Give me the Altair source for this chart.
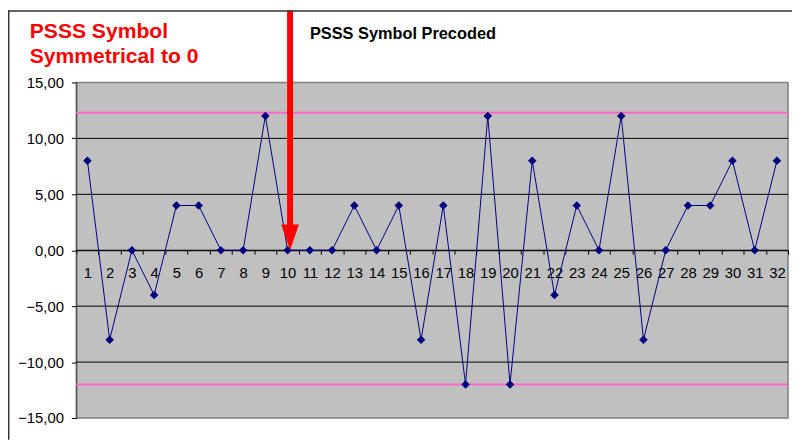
import altair as alt
import pandas as pd

# ---- data ----
symbols = list(range(1, 33))
values = [8, -8, 0, -4, 4, 4, 0, 0, 12, 0, 0, 0, 4, 0, 4, -8,
          4, -12, 12, -12, 8, -4, 4, 0, 12, -8, 0, 4, 4, 8, 0, 8]
grid_levels = [-10, -5, 0, 5, 10]
limit_levels = [12.3, -12]
y_ticks = [-15, -10, -5, 0, 5, 10, 15]
arrow_at = [10]

title_text = "PSSS Symbol Precoded"
note_lines = ["PSSS Symbol", "Symmetrical to 0"]

df = pd.DataFrame({"sym": symbols, "val": values})
grid_df = pd.DataFrame({"g": grid_levels})
lim_df = pd.DataFrame({"l": limit_levels})
arrow_df = pd.DataFrame({"sym": arrow_at})
one = pd.DataFrame({"a": [0]})

FONT = "Liberation Sans"
xscale = alt.Scale(type="band", domain=symbols, paddingInner=0, paddingOuter=0)
yscale = alt.Scale(domain=[-15, 15], nice=False, zero=False)

yaxis = alt.Axis(values=y_ticks, grid=False, domainColor="#404040",
                 tickColor="black", tickSize=5, labelFont=FONT,
                 labelFontSize=15, labelColor="black", labelPadding=8,
                 labelExpr="replace(format(datum.value, '.2f'), '.', ',')")

grid = alt.Chart(grid_df).mark_rule(color="black", strokeWidth=1).encode(
    y=alt.Y("g:Q", scale=yscale, axis=yaxis, title=None)
)

limits = alt.Chart(lim_df).mark_rule(color="#FF66CC", strokeWidth=2).encode(
    y=alt.Y("l:Q", scale=yscale, axis=yaxis, title=None)
)

base = alt.Chart(df).encode(
    x=alt.X("sym:O", scale=xscale, bandPosition=0.5, title=None,
            axis=alt.Axis(orient="bottom", offset=-169.5, tickBand="extent",
                          domainColor="black", tickColor="black", tickSize=4,
                          labelAngle=0, labelFont=FONT, labelFontSize=15,
                          labelColor="black", labelPadding=12, grid=False,
                          labelBaseline="top")),
    y=alt.Y("val:Q", scale=yscale, title=None, axis=yaxis),
)

line = base.mark_line(color="#000080", strokeWidth=1)
pts = base.mark_point(shape="diamond", filled=True, color="#000080", size=75, opacity=1)

shaft = alt.Chart(arrow_df).mark_rule(color="#FF0000", strokeWidth=6, xOffset=2.5).encode(
    x=alt.X("sym:O", scale=xscale, bandPosition=0.5, title=None),
    y=alt.value(-73),
    y2=alt.value(144),
)
head = alt.Chart(arrow_df).mark_point(
    shape="M-0.69,-1 L0.69,-1 L0,1 Z", filled=True, color="#FF0000",
    size=676, opacity=1, strokeWidth=0, xOffset=2.5,
).encode(
    x=alt.X("sym:O", scale=xscale, bandPosition=0.5, title=None),
    y=alt.value(156.5),
)

note1 = alt.Chart(one).mark_text(
    text=note_lines[0], font=FONT, fontSize=21.3, fontWeight="bold",
    color="#FF0000", align="left", baseline="alphabetic"
).encode(x=alt.value(-47), y=alt.value(-45))
note2 = alt.Chart(one).mark_text(
    text=note_lines[1], font=FONT, fontSize=21.3, fontWeight="bold",
    color="#FF0000", align="left", baseline="alphabetic"
).encode(x=alt.value(-47), y=alt.value(-20))
title = alt.Chart(one).mark_text(
    text=title_text, font=FONT, fontSize=16.5, fontWeight="bold",
    color="black", align="left", baseline="alphabetic"
).encode(x=alt.value(236), y=alt.value(-44))

border_left = alt.Chart(one).mark_rule(color="#333333", strokeWidth=1.5).encode(
    x=alt.value(-68.3), y=alt.value(-73), y2=alt.value(361)
)
border_top = alt.Chart(one).mark_rule(color="#333333", strokeWidth=1.5).encode(
    x=alt.value(-69), x2=alt.value(723), y=alt.value(-72.3)
)

chart = alt.layer(
    grid, limits, line, pts, shaft, head, note1, note2, title,
    border_left, border_top
).properties(
    width=719, height=339,
    padding={"left": 69, "top": 73, "right": 4, "bottom": 22},
    autosize=alt.AutoSizeParams(type="none"),
).configure_view(fill="#C0C0C0", stroke="#808080", strokeWidth=1.5)

chart.save("out.html", embed_options={"renderer": "svg", "actions": False})
